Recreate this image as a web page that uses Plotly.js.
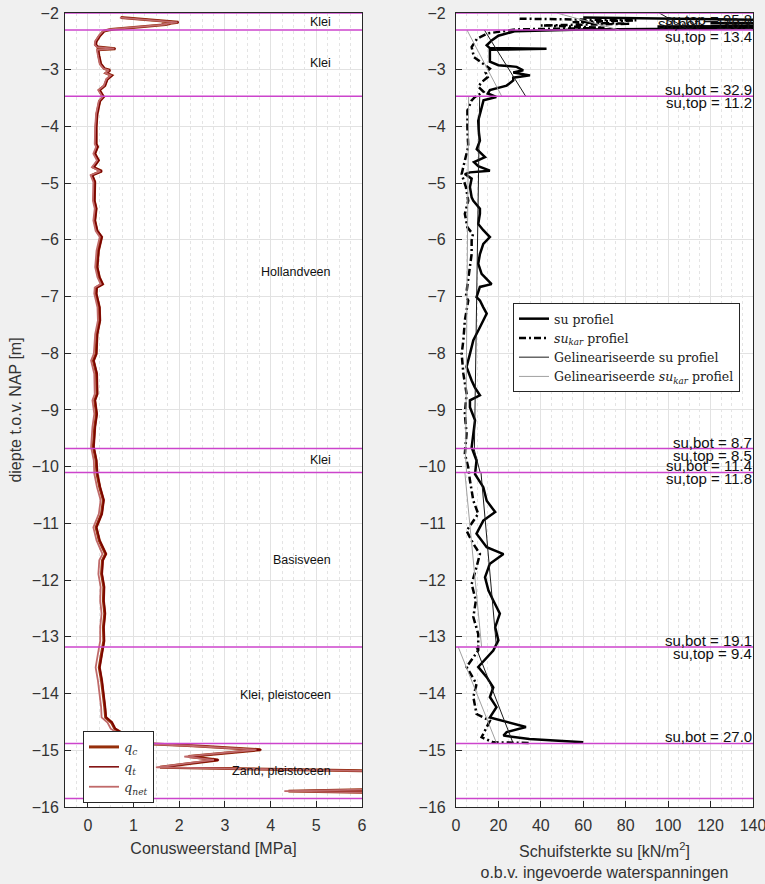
<!DOCTYPE html>
<html>
<head>
<meta charset="utf-8">
<script src="https://cdn.plot.ly/plotly-3.0.1.min.js"></script>
<style>
  html, body { margin: 0; padding: 0; background: #f0f0f0; }
  #chart { width: 765px; height: 884px; }
</style>
</head>
<body>
<div id="chart"></div>
<script>
// ---- Soil layering (depth in m NAP) ----
const layerBounds = [-2.0, -2.3, -3.47, -9.68, -10.1, -13.18, -14.88, -15.85];
const layerNames = ['Klei', 'Klei', 'Hollandveen', 'Klei', 'Basisveen', 'Klei, pleistoceen', 'Zand, pleistoceen'];

// Axis limits of both panels
const cptRange = [-0.5, 6];
const suRange = [0, 140];
const depthRange = [-16, -2];

// ---- CPT: cone resistance profiles [MPa] ----
const cptDepth = [-2.08, -2.165, -2.20, -2.185, -2.205, -2.29, -2.32, -2.40, -2.50, -2.56,
  -2.60, -2.63, -2.65, -2.75, -2.90, -2.98, -3.01, -3.06, -3.10, -3.17,
  -3.28, -3.36, -3.42, -3.48, -3.55, -3.78, -4.01, -4.31, -4.36, -4.48,
  -4.60, -4.72, -4.79, -4.86, -4.98, -5.31, -5.45, -5.66, -5.84, -5.95,
  -6.19, -6.48, -6.66, -6.78, -6.84, -6.95, -7.19, -7.42, -7.66, -8.01,
  -8.13, -8.36, -8.72, -8.83, -9.07, -9.30, -9.65, -9.89, -10.12, -10.36,
  -10.59, -10.83, -11.07, -11.30, -11.54, -11.65, -11.89, -12.12, -12.36, -12.59,
  -12.83, -13.07, -13.30, -13.54, -13.77, -14.01, -14.24, -14.42, -14.51, -14.62,
  -14.75, -14.88, -14.92, -14.99, -15.11, -15.17, -15.30, -15.375, -15.45, -15.60,
  -15.68, -15.72, -15.75, -15.85];
const qc = [0.72, 1.98, 1.62, 1.80, 1.70, 0.50, 0.35, 0.26, 0.18, 0.17,
  0.22, 0.60, 0.22, 0.24, 0.28, 0.36, 0.48, 0.40, 0.52, 0.42,
  0.37, 0.25, 0.30, 0.34, 0.26, 0.20, 0.18, 0.18, 0.21, 0.15,
  0.23, 0.12, 0.30, 0.09, 0.15, 0.14, 0.18, 0.15, 0.20, 0.30,
  0.23, 0.20, 0.25, 0.32, 0.19, 0.18, 0.25, 0.26, 0.20, 0.18,
  0.12, 0.19, 0.20, 0.15, 0.19, 0.15, 0.12, 0.18, 0.20, 0.26,
  0.34, 0.30, 0.18, 0.25, 0.39, 0.32, 0.30, 0.35, 0.34, 0.37,
  0.34, 0.35, 0.30, 0.25, 0.30, 0.34, 0.37, 0.39, 0.52, 0.59,
  0.85, 1.20, 2.30, 3.78, 2.20, 2.85, 1.58, 7.00, 9.00, 12.00,
  7.00, 4.39, 6.80, 10.00];
const qt = [0.73, 1.99, 1.63, 1.81, 1.71, 0.51, 0.36, 0.27, 0.19, 0.18,
  0.23, 0.61, 0.23, 0.25, 0.29, 0.37, 0.49, 0.41, 0.53, 0.43,
  0.38, 0.26, 0.31, 0.35, 0.27, 0.21, 0.19, 0.19, 0.22, 0.16,
  0.24, 0.13, 0.31, 0.10, 0.16, 0.15, 0.19, 0.16, 0.21, 0.31,
  0.24, 0.21, 0.26, 0.33, 0.20, 0.19, 0.26, 0.27, 0.21, 0.19,
  0.13, 0.20, 0.21, 0.16, 0.20, 0.16, 0.13, 0.19, 0.21, 0.27,
  0.35, 0.31, 0.19, 0.26, 0.40, 0.33, 0.31, 0.36, 0.35, 0.38,
  0.35, 0.36, 0.31, 0.26, 0.31, 0.35, 0.38, 0.40, 0.53, 0.60,
  0.86, 1.21, 2.31, 3.80, 2.22, 2.87, 1.60, 7.02, 9.02, 12.02,
  7.02, 4.41, 6.82, 10.02];
const qnet = [0.70, 1.96, 1.60, 1.78, 1.68, 0.48, 0.33, 0.24, 0.16, 0.15,
  0.20, 0.58, 0.20, 0.22, 0.26, 0.34, 0.46, 0.38, 0.50, 0.40,
  0.35, 0.23, 0.28, 0.32, 0.24, 0.18, 0.16, 0.15, 0.18, 0.12,
  0.20, 0.09, 0.27, 0.06, 0.12, 0.11, 0.15, 0.12, 0.17, 0.26,
  0.19, 0.16, 0.21, 0.28, 0.15, 0.14, 0.21, 0.22, 0.16, 0.13,
  0.07, 0.14, 0.15, 0.10, 0.14, 0.10, 0.07, 0.13, 0.14, 0.20,
  0.28, 0.24, 0.12, 0.19, 0.32, 0.25, 0.23, 0.28, 0.27, 0.30,
  0.27, 0.27, 0.22, 0.17, 0.22, 0.26, 0.29, 0.30, 0.43, 0.50,
  0.76, 1.11, 2.21, 3.69, 2.11, 2.76, 1.49, 6.91, 8.91, 11.91,
  6.91, 4.30, 6.71, 9.91];

// ---- Undrained shear strength profiles [kN/m2] ----
const suDepth = [-2.08, -2.12, -2.15, -2.18, -2.21, -2.24, -2.26, -2.29, -2.32, -2.40,
  -2.48, -2.57, -2.62, -2.63, -2.65, -2.86, -2.92, -2.95, -3.01, -3.05,
  -3.10, -3.14, -3.19, -3.28, -3.32, -3.36, -3.42, -3.48, -3.54, -3.66,
  -3.90, -4.10, -4.25, -4.40, -4.54, -4.63, -4.70, -4.78, -4.81, -4.84,
  -4.92, -5.07, -5.25, -5.31, -5.45, -5.54, -5.72, -5.83, -5.95, -6.07,
  -6.25, -6.42, -6.60, -6.78, -6.83, -7.01, -7.07, -7.19, -7.30, -7.54,
  -7.77, -8.01, -8.24, -8.48, -8.60, -8.74, -8.83, -8.95, -9.18, -9.42,
  -9.66, -9.89, -10.13, -10.36, -10.60, -10.80, -10.95, -11.18, -11.42, -11.54,
  -11.71, -11.95, -12.18, -12.36, -12.59, -12.83, -13.06, -13.24, -13.42, -13.53,
  -13.71, -13.89, -14.06, -14.24, -14.42, -14.59, -14.68, -14.74, -14.80, -14.86];
const su = [60, 150, 210, 120, 230, 95, 170, 60, 28, 20,
  17, 14.5, 16, 42.7, 16, 16, 20, 28.6, 31.7, 27,
  34.9, 27, 27, 23.9, 20, 16, 15, 19, 13, 12.1,
  10.5, 10.8, 11.3, 9.8, 13.7, 8.5, 10.5, 16.0, 6.6, 4.2,
  7.4, 6.6, 7.4, 8.2, 11.3, 11.3, 10.5, 12.9, 16.0, 12.9,
  11.3, 10.5, 12.1, 16.8, 11.3, 9.7, 11.3, 12.9, 14.5, 11.3,
  8.2, 6.6, 5.0, 7.4, 8.9, 11.3, 6.6, 6.6, 9.0, 8.2,
  7.4, 9.7, 9.0, 12.9, 14.5, 18.5, 12.9, 9.7, 14.5, 22.4,
  16.0, 13.7, 15.3, 17.6, 20.7, 18.5, 20.0, 17.6, 12.9, 10.5,
  14.5, 17.6, 16.0, 19.1, 16.0, 33.0, 23.9, 22.4, 34.6, 60];

const suKarDepth = [-2.10, -2.13, -2.16, -2.19, -2.22, -2.26, -2.29, -2.36, -2.45, -2.60,
  -2.78, -2.92, -2.98, -3.05, -3.13, -3.22, -3.30, -3.39, -3.48, -3.54,
  -3.72, -4.01, -4.36, -4.60, -4.84, -5.07, -5.31, -5.54, -5.78, -5.90,
  -6.01, -6.25, -6.48, -6.84, -7.00, -7.07, -7.42, -7.77, -8.01, -8.36,
  -8.71, -9.07, -9.42, -9.77, -10.01, -10.24, -10.60, -10.83, -11.13, -11.36,
  -11.54, -11.77, -12.07, -12.36, -12.65, -12.95, -13.24, -13.53, -13.83, -14.06,
  -14.36, -14.48, -14.65, -14.77, -14.86, -14.87];
const suKar = [30, 85, 55, 82, 40, 70, 28, 15, 10, 7.4,
  8.5, 13.7, 16, 14, 15, 12.1, 10.5, 13, 9, 7.4,
  5.4, 5.4, 5.8, 4.2, 2.7, 4.7, 5.8, 4.2, 5.4, 8.0,
  7.4, 7.4, 6.6, 5.0, 4.7, 5.8, 4.2, 3.5, 2.7, 3.5,
  5.0, 4.2, 5.0, 4.2, 5.8, 6.6, 8.2, 10.5, 5.0, 8.2,
  11.3, 9.7, 7.4, 9.4, 8.2, 10.5, 10.5, 5.0, 9.7, 8.2,
  9.7, 16.0, 13.7, 12.1, 17.6, 35];

// Linearised values per layer (top / bottom of each cohesive layer)
const suTop = [95.8, 13.4, 11.2, 8.5, 11.8, 9.4];
const suBot = [110.1, 32.9, 8.7, 11.4, 19.1, 27.0];
const suKarTop = [47.5, 5.2, 6.0, 4.3, 4.2, 1.1];
const suKarBot = [77.0, 21.6, 4.6, 5.0, 12.1, 19.2];

// ---- build linearised segment traces (gaps between layers) ----
function segments(topVals, botVals) {
  const xs = [], ys = [];
  for (let i = 0; i < topVals.length; i++) {
    xs.push(topVals[i], botVals[i], null);
    ys.push(layerBounds[i], layerBounds[i + 1], null);
  }
  return { x: xs, y: ys };
}
const linSu = segments(suTop, suBot);
const linSuKar = segments(suKarTop, suKarBot);

const FONT = 'Liberation Sans, Arial, Helvetica, sans-serif';
const SERIF = 'DejaVu Serif, Liberation Serif, serif';
const AX = '#262626';

const traces = [
  { x: qc, y: cptDepth, xaxis: 'x', yaxis: 'y', mode: 'lines', name: '<i>q<sub>c</sub></i>',
    line: { color: '#962f0a', width: 3 }, legend: 'legend' },
  { x: qt, y: cptDepth, xaxis: 'x', yaxis: 'y', mode: 'lines', name: '<i>q<sub>t</sub></i>',
    line: { color: '#7a0000', width: 1.5 }, legend: 'legend' },
  { x: qnet, y: cptDepth, xaxis: 'x', yaxis: 'y', mode: 'lines', name: '<i>q<sub>net</sub></i>',
    line: { color: '#c06a6a', width: 1.8 }, legend: 'legend' },

  { x: su, y: suDepth, xaxis: 'x2', yaxis: 'y2', mode: 'lines', name: 'su profiel',
    line: { color: '#000000', width: 2.5 }, legend: 'legend2' },
  { x: suKar, y: suKarDepth, xaxis: 'x2', yaxis: 'y2', mode: 'lines',
    name: '<i>su<sub>kar</sub></i> profiel',
    line: { color: '#000000', width: 2.5, dash: '7px,3px,2px,3px' }, legend: 'legend2' },
  { x: linSu.x, y: linSu.y, xaxis: 'x2', yaxis: 'y2', mode: 'lines', connectgaps: false,
    name: 'Gelineariseerde su profiel',
    line: { color: '#1a1a1a', width: 1 }, legend: 'legend2' },
  { x: linSuKar.x, y: linSuKar.y, xaxis: 'x2', yaxis: 'y2', mode: 'lines', connectgaps: false,
    name: 'Gelineariseerde <i>su<sub>kar</sub></i> profiel',
    line: { color: '#a0a0a0', width: 1 }, legend: 'legend2' }
];

// Layer boundary lines on both panels
const shapes = [];
layerBounds.forEach(d => {
  shapes.push({ type: 'line', xref: 'x', yref: 'y', x0: cptRange[0], x1: cptRange[1],
    y0: d, y1: d, layer: 'above', line: { color: '#cc44cc', width: 1.5 } });
  shapes.push({ type: 'line', xref: 'x2', yref: 'y2', x0: suRange[0], x1: suRange[1],
    y0: d, y1: d, layer: 'above', line: { color: '#cc44cc', width: 1.5 } });
});

// Layer names (left panel) and su values at layer boundaries (right panel)
const annotations = [];
layerNames.forEach((name, i) => {
  annotations.push({ xref: 'x', yref: 'y', x: 5.37, y: (layerBounds[i] + layerBounds[i + 1]) / 2,
    text: name, showarrow: false, xanchor: 'right', yanchor: 'middle',
    font: { family: FONT, size: 12.5, color: '#111' } });
});
suTop.forEach((v, i) => {
  annotations.push({ xref: 'x2', yref: 'y2', x: 140, y: layerBounds[i],
    text: 'su,top = ' + v.toFixed(1), showarrow: false, xanchor: 'right', yanchor: 'top',
    yshift: 3, borderpad: 0, font: { family: FONT, size: 15, color: '#111' } });
  annotations.push({ xref: 'x2', yref: 'y2', x: 140, y: layerBounds[i + 1],
    text: 'su,bot = ' + suBot[i].toFixed(1), showarrow: false, xanchor: 'right', yanchor: 'bottom',
    yshift: -3, borderpad: 0, font: { family: FONT, size: 15, color: '#111' } });
});

function xAxis(domain, range, dtick, minor, title, anchor, standoff) {
  return {
    domain: domain, range: range, dtick: dtick, tick0: 0, anchor: anchor,
    ticks: 'inside', ticklen: 6, tickcolor: AX, showline: true, linecolor: AX, linewidth: 1,
    mirror: true, zeroline: false, showgrid: true, gridcolor: '#e2e2e2',
    ticklabeloverflow: 'allow', ticklabelstandoff: 4,
    minor: { dtick: minor, showgrid: true, gridcolor: '#e4e4e4', griddash: 'dot', gridwidth: 1 },
    tickfont: { family: FONT, size: 16, color: '#333' },
    title: { text: title, font: { family: FONT, size: 16, color: '#333' }, standoff: standoff }
  };
}
function yAxis(anchor, title, standoff) {
  return {
    domain: [0.0871, 0.9853], range: depthRange, dtick: 1, anchor: anchor,
    ticks: 'inside', ticklen: 6, tickcolor: AX, showline: true, linecolor: AX, linewidth: 1,
    mirror: true, zeroline: false, showgrid: true, gridcolor: '#e2e2e2',
    ticklabeloverflow: 'allow', ticklabelstandoff: standoff,
    tickfont: { family: FONT, size: 16, color: '#333' },
    title: { text: title, font: { family: FONT, size: 16, color: '#333' }, standoff: 6 }
  };
}

const layout = {
  width: 765, height: 884,
  paper_bgcolor: '#f0f0f0', plot_bgcolor: '#ffffff',
  margin: { l: 0, r: 0, t: 0, b: 0 },
  showlegend: true,
  xaxis: xAxis([0.085, 0.4732], cptRange, 1, 0.25, 'Conusweerstand [MPa]', 'y', 9),
  yaxis: yAxis('x', 'diepte t.o.v. NAP [m]', 2),
  xaxis2: xAxis([0.596, 0.9843], suRange, 20, 5,
    'Schuifsterkte su [kN/m<sup>2</sup>]<br>o.b.v. ingevoerde waterspanningen', 'y2', 12),
  yaxis2: yAxis('x2', '', 6),
  legend: { x: 0.1085, y: 0.1731, xanchor: 'left', yanchor: 'top', bgcolor: '#ffffff',
    bordercolor: AX, borderwidth: 1, font: { family: SERIF, size: 13, color: '#333' },
    tracegroupgap: 0 },
  legend2: { x: 0.6706, y: 0.6572, xanchor: 'left', yanchor: 'top', bgcolor: '#ffffff',
    bordercolor: AX, borderwidth: 1, font: { family: SERIF, size: 12.5, color: '#222' },
    tracegroupgap: 0 },
  shapes: shapes,
  annotations: annotations
};

Plotly.newPlot('chart', traces, layout, { displayModeBar: false, staticPlot: true });
</script>
</body>
</html>
